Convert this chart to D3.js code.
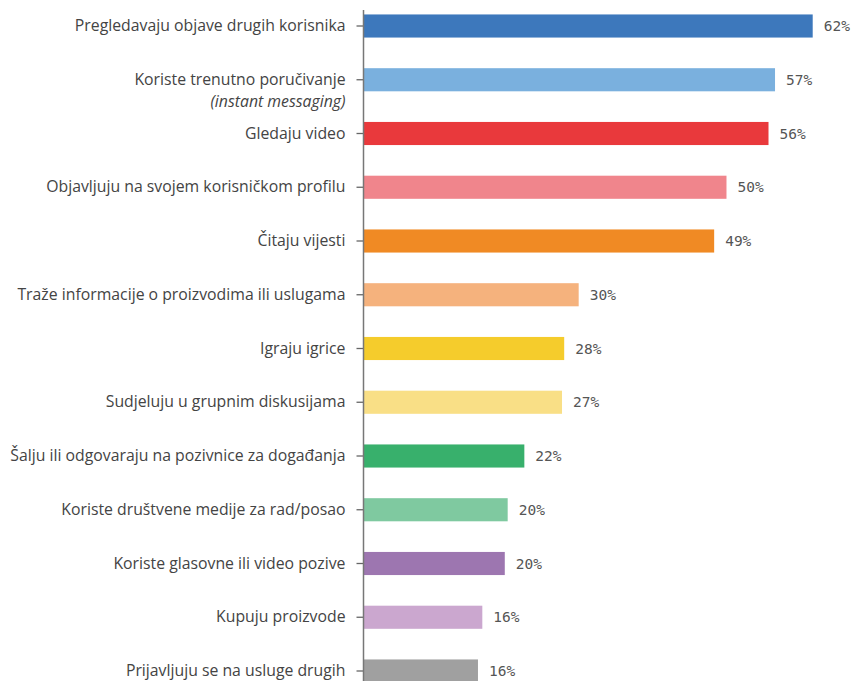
<!DOCTYPE html>
<html>
<head>
<meta charset="utf-8">
<script src="https://cdn.jsdelivr.net/npm/d3@7"></script>
<style>
  body { margin: 0; background: #fff; }
  .cat text { font-family: "Open Sans", sans-serif; font-size: 15.8px; fill: #444; }
  .val { font-family: "DejaVu Sans Mono", monospace; font-size: 14.5px; fill: #555; }
</style>
</head>
<body>
<div id="chart"></div>
<script>
// categories, top to bottom
var categories = [
  "Pregledavaju objave drugih korisnika",
  "Koriste trenutno poručivanje",
  "Gledaju video",
  "Objavljuju na svojem korisničkom profilu",
  "Čitaju vijesti",
  "Traže informacije o proizvodima ili uslugama",
  "Igraju igrice",
  "Sudjeluju u grupnim diskusijama",
  "Šalju ili odgovaraju na pozivnice za događanja",
  "Koriste društvene medije za rad/posao",
  "Koriste glasovne ili video pozive",
  "Kupuju proizvode",
  "Prijavljuju se na usluge drugih"
];
// second line under a category (only one has it)
var subLabels = ["", "(instant messaging)", "", "", "", "", "", "", "", "", "", "", ""];
// bar lengths (%)
var values = [62, 56.8, 55.9, 50.1, 48.4, 29.7, 27.7, 27.4, 22.2, 19.9, 19.5, 16.4, 15.8];
// value labels as printed
var valueLabels = ["62%", "57%", "56%", "50%", "49%", "30%", "28%", "27%", "22%", "20%", "20%", "16%", "16%"];
var colors = ["#3d78bc", "#7ab0de", "#e9393c", "#f0858c", "#f08a24", "#f5b27d", "#f5cc2c",
              "#f9df86", "#38b06c", "#7fc9a0", "#9d76b0", "#cba7cf", "#a0a0a0"];

var w = 856, h = 681;
var svg = d3.select("#chart").append("svg")
    .attr("width", w)
    .attr("height", h);

var x = d3.scaleLinear().domain([0, 62]).range([363.5, 812.7]);
var y = d3.scaleBand().domain(categories)
    .range([-0.875, 697.875])
    .paddingInner(0.57)
    .paddingOuter(0.285);

svg.selectAll("rect")
   .data(values)
   .enter()
   .append("rect")
   .attr("x", x(0))
   .attr("y", function(d, i) { return y(categories[i]); })
   .attr("width", function(d) { return x(d) - x(0); })
   .attr("height", y.bandwidth())
   .style("fill", function(d, i) { return colors[i]; });

var axis = svg.append("g")
    .attr("class", "cat")
    .attr("transform", "translate(" + x(0) + ",0)")
    .call(d3.axisLeft(y).tickSize(7).tickPadding(11));
axis.select(".domain").remove();
axis.selectAll(".tick line").attr("stroke", "#666").attr("stroke-width", 1.3);
axis.selectAll(".tick text").each(function(d, i) {
    if (subLabels[i]) {
        d3.select(this).append("tspan")
          .attr("x", -18).attr("dy", "1.4em")
          .style("font-style", "italic")
          .text(subLabels[i]);
    }
});

// vertical axis line
svg.append("line")
   .attr("x1", x(0)).attr("x2", x(0))
   .attr("y1", 10).attr("y2", h)
   .attr("stroke", "#777").attr("stroke-width", 1.5);

svg.selectAll(".val")
   .data(values)
   .enter()
   .append("text")
   .attr("class", "val")
   .attr("x", function(d) { return x(d) + 11; })
   .attr("y", function(d, i) { return y(categories[i]) + y.bandwidth() / 2; })
   .attr("dy", "0.35em")
   .text(function(d, i) { return valueLabels[i]; });
</script>
</body>
</html>
